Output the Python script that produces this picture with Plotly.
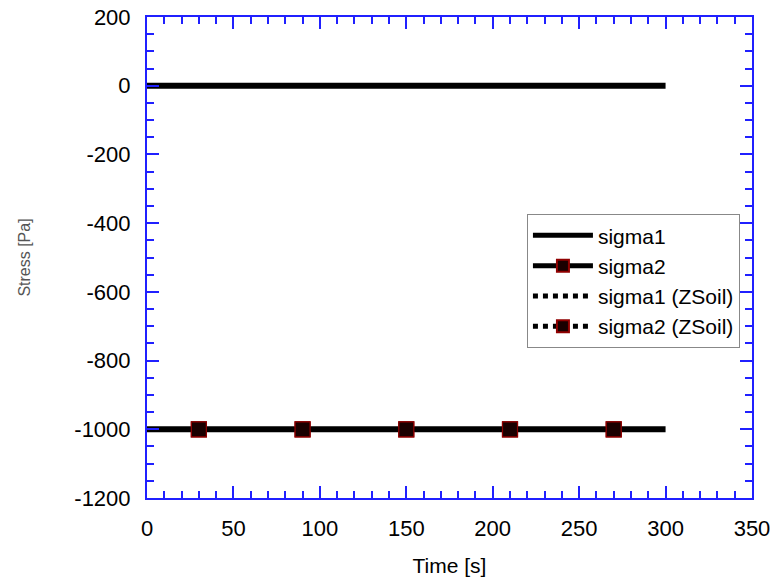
import plotly.graph_objects as go

time = [0, 30, 90, 150, 210, 270, 300]
sigma1 = [0, 0, 0, 0, 0, 0, 0]
sigma2 = [-1000, -1000, -1000, -1000, -1000, -1000, -1000]
sigma1_zsoil = [0, 0, 0, 0, 0, 0, 0]
sigma2_zsoil = [-1000, -1000, -1000, -1000, -1000, -1000, -1000]
marker_sizes = [0, 15, 15, 15, 15, 15, 0]

x_tickvals = [0, 50, 100, 150, 200, 250, 300, 350]
x_ticktext = ["0", "50", "100", "150", "200", "250", "300", "350"]
y_tickvals = [200, 0, -200, -400, -600, -800, -1000, -1200]
y_ticktext = ["200", "0", "-200", "-400", "-600", "-800", "-1000", "-1200"]

fig = go.Figure()
fig.add_trace(go.Scatter(x=time, y=sigma1, mode="lines", name="sigma1", legendgroup="a",
                         line=dict(color="black", width=6)))
fig.add_trace(go.Scatter(x=time, y=sigma2, mode="lines+markers", name="sigma2", legendgroup="b",
                         line=dict(color="black", width=6),
                         marker=dict(symbol="square", size=marker_sizes, color="#1a0000", opacity=1,
                                     line=dict(color="#900000", width=1.2))))
fig.add_trace(go.Scatter(x=time, y=sigma1_zsoil, mode="lines", name="sigma1 (ZSoil)", legendgroup="c",
                         line=dict(color="black", width=4, dash="dot")))
fig.add_trace(go.Scatter(x=time, y=sigma2_zsoil, mode="lines+markers", name="sigma2 (ZSoil)", legendgroup="d",
                         line=dict(color="black", width=4, dash="dot"),
                         marker=dict(symbol="square", size=marker_sizes, color="#1a0000", opacity=1,
                                     line=dict(color="#900000", width=1.2))))

axis_common = dict(showline=True, linecolor="#2020ff", linewidth=2, mirror="ticks",
                   ticks="inside", tickcolor="#2020ff", tickwidth=1.5, ticklen=12,
                   showgrid=False, zeroline=False, automargin=False,
                   tickfont=dict(family="Liberation Sans, Arial", size=22, color="black"))

fig.update_xaxes(range=[0, 350], tickvals=x_tickvals, ticktext=x_ticktext, ticklabelstandoff=10,
                 minor=dict(ticks="inside", dtick=10, tick0=0, ticklen=7, tickcolor="#2020ff", tickwidth=1.5),
                 title=dict(text="Time [s]", font=dict(family="Liberation Sans, Arial", size=21, color="black"), standoff=18),
                 **axis_common)
fig.update_yaxes(range=[-1200, 200], tickvals=y_tickvals, ticktext=y_ticktext, ticklabelstandoff=10,
                 minor=dict(ticks="inside", dtick=50, tick0=0, ticklen=7, tickcolor="#2020ff", tickwidth=1.5),
                 title=dict(text="Stress [Pa]", font=dict(family="Liberation Sans, Arial", size=16, color="#555555"), standoff=40),
                 **axis_common)

fig.update_layout(
    width=773, height=585,
    margin=dict(l=147, r=21, t=17, b=87),
    plot_bgcolor="white", paper_bgcolor="white",
    legend=dict(x=0.628, y=0.59, xanchor="left", yanchor="top",
                bordercolor="#888888", borderwidth=1, bgcolor="white",
                font=dict(family="Liberation Sans, Arial", size=21, color="black"),
                itemsizing="constant", itemwidth=60, tracegroupgap=0),
    showlegend=True,
)

fig.write_html("out.html", config={"displayModeBar": False},
               post_script="document.body.style.margin='0';")
